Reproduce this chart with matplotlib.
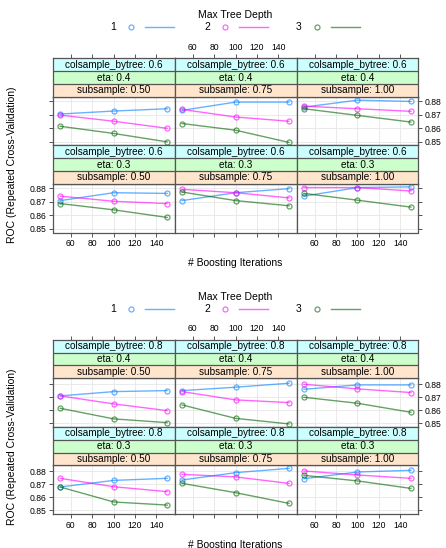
import matplotlib.pyplot as plt

plt.rcParams['font.family'] = ['Liberation Sans', 'DejaVu Sans']

W, H = 446, 548

iterations = [50, 100, 150]
depths = ['1', '2', '3']
depth_colors = ['#0080ff', '#ff00ff', '#006400']
subsamples = ['0.50', '0.75', '1.00']
etas = ['0.4', '0.3']
colsamples = ['0.6', '0.8']

# ROC per panel (subsample 0.50 / 0.75 / 1.00), one list per max depth over iterations
roc_cs06_eta04 = [
    [[0.8705, 0.8727, 0.8744], [0.8697, 0.8652, 0.8600], [0.8615, 0.8562, 0.8500]],
    [[0.8732, 0.8793, 0.8793], [0.8739, 0.8683, 0.8652], [0.8635, 0.8586, 0.8496]],
    [[0.8756, 0.8807, 0.8798], [0.8763, 0.8744, 0.8725], [0.8744, 0.8695, 0.8646]],
]
roc_cs06_eta03 = [
    [[0.8709, 0.8767, 0.8762], [0.8742, 0.8704, 0.8687], [0.8687, 0.8641, 0.8585]],
    [[0.8709, 0.8767, 0.8797], [0.8792, 0.8767, 0.8729], [0.8772, 0.8709, 0.8671]],
    [[0.8742, 0.8805, 0.8810], [0.8805, 0.8805, 0.8780], [0.8762, 0.8712, 0.8661]],
]
roc_cs08_eta04 = [
    [[0.8710, 0.8743, 0.8751], [0.8710, 0.8648, 0.8596], [0.8614, 0.8532, 0.8503]],
    [[0.8751, 0.8777, 0.8808], [0.8743, 0.8679, 0.8658], [0.8640, 0.8536, 0.8493]],
    [[0.8761, 0.8795, 0.8795], [0.8800, 0.8764, 0.8736], [0.8699, 0.8653, 0.8583]],
]
roc_cs08_eta03 = [
    [[0.8679, 0.8730, 0.8746], [0.8746, 0.8681, 0.8643], [0.8679, 0.8563, 0.8539]],
    [[0.8733, 0.8790, 0.8823], [0.8777, 0.8757, 0.8707], [0.8707, 0.8635, 0.8552]],
    [[0.8743, 0.8795, 0.8808], [0.8803, 0.8772, 0.8746], [0.8769, 0.8726, 0.8668]],
]

xticks = [60, 80, 100, 120, 140]
yticks = [0.85, 0.86, 0.87, 0.88]
strip_colors = ['#ffe5cc', '#ccffcc', '#ccffff']  # subsample, eta, colsample
edge = '#555555'

LEFT, PW = 52.7, 121.9
STRIP, PANEL = 38.5, 48.6

fig = plt.figure(figsize=(W / 100, H / 100), dpi=100)


def box(x0, y0, x1, y1):
    return fig.add_axes([x0 / W, 1 - y1 / H, (x1 - x0) / W, (y1 - y0) / H])


def pad(vals, frac=0.07):
    lo, hi = min(vals), max(vals)
    d = (hi - lo) * frac
    return lo - d, hi + d


def style_ticks(ax):
    ax.tick_params(direction='out', length=3.2, width=0.7, color=edge,
                   labelsize=6.2, pad=1.5)


def block(top, cs, rows):
    allv = [v for _, d in rows for p in d for s in p for v in s]
    ylim = pad(allv)
    xlim = pad(iterations)
    for r, (eta, data) in enumerate(rows):
        s_top = top + r * (STRIP + PANEL)
        p_top = s_top + STRIP
        for c in range(3):
            x0 = LEFT + c * PW
            ax = box(x0, p_top, x0 + PW, p_top + PANEL)
            ax.set_xlim(xlim)
            ax.set_ylim(ylim)
            ax.set_xticks(xticks)
            ax.set_yticks(yticks)
            ax.set_yticklabels(['%.2f' % v for v in yticks])
            ax.grid(True, color='#e6e6e6', lw=0.6, zorder=0)
            ax.set_axisbelow(True)
            for sp in ax.spines.values():
                sp.set_color(edge)
                sp.set_linewidth(0.9)
            for k in range(3):
                ax.plot(iterations, data[c][k], '-o', color=depth_colors[k], alpha=0.6,
                        mfc='none', ms=3.6, mew=0.9, lw=1.0, zorder=3)
            style_ticks(ax)
            ax.tick_params(left=(c == 0), labelleft=(c == 0 and r == 1),
                           right=(c == 2), labelright=(c == 2 and r == 0),
                           bottom=(r == 1), labelbottom=(r == 1 and c != 1),
                           top=False, labeltop=False)

            st = box(x0, s_top, x0 + PW, p_top)
            st.set_xlim(xlim)
            st.set_ylim(0, 3)
            labels = ['subsample: ' + subsamples[c], 'eta: ' + eta,
                      'colsample_bytree: ' + cs]
            for k in range(3):
                st.axhspan(k, k + 1, color=strip_colors[k], lw=0)
                st.text(sum(xlim) / 2, k + 0.5, labels[k], ha='center', va='center',
                        fontsize=7.2)
            for k in (1, 2):
                st.axhline(k, color=edge, lw=0.9)
            for sp in st.spines.values():
                sp.set_color(edge)
                sp.set_linewidth(0.9)
            st.set_xticks(xticks)
            st.set_yticks([])
            style_ticks(st)
            st.tick_params(bottom=False, labelbottom=False, top=(r == 0),
                           labeltop=(r == 0 and c == 1))

    ov.text(235.5, top - 43.3, 'Max Tree Depth', ha='center', va='center', fontsize=7.5)
    ly = top - 31.3
    for k, (lx, name) in enumerate(zip([113, 207, 299], depths)):
        ov.text(lx, ly, name, ha='center', va='center', fontsize=7.5)
        ov.plot([lx + 18], [ly], 'o', color=depth_colors[k], alpha=0.6, mfc='none',
                ms=3.6, mew=0.9)
        ov.plot([lx + 32, lx + 61], [ly, ly], '-', color=depth_colors[k], alpha=0.6, lw=1.0)
    ov.text(235.5, top + 204.7, '# Boosting Iterations', ha='center', va='center',
            fontsize=7.5)
    ov.text(12.5, top + 106.7, 'ROC (Repeated Cross-Validation)', ha='center',
            va='center', rotation=90, fontsize=7.5)


ov = fig.add_axes([0, 0, 1, 1], zorder=10)
ov.set_xlim(0, W)
ov.set_ylim(H, 0)
ov.axis('off')
ov.patch.set_alpha(0)

block(58.3, colsamples[0], [(etas[0], roc_cs06_eta04), (etas[1], roc_cs06_eta03)])
block(339.8, colsamples[1], [(etas[0], roc_cs08_eta04), (etas[1], roc_cs08_eta03)])

fig.savefig('out.png', dpi=100)
